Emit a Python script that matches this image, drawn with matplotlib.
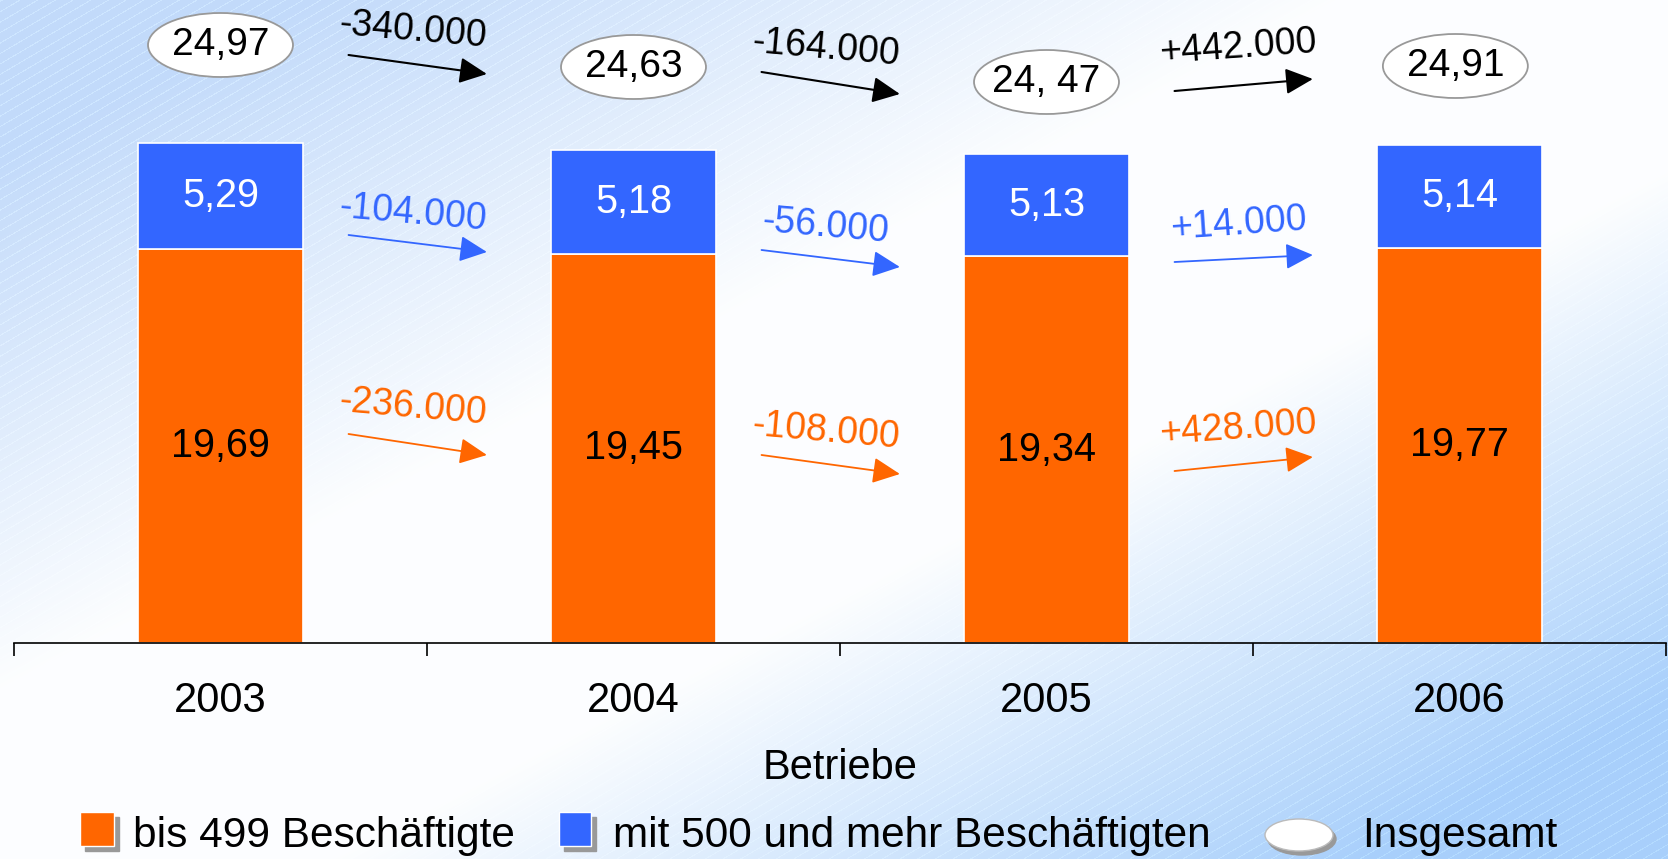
import numpy as np
import matplotlib
matplotlib.use("Agg")
import matplotlib.pyplot as plt
from matplotlib.patches import Ellipse, Rectangle

plt.rcParams["font.family"] = ["Liberation Sans", "DejaVu Sans"]

# ── Data ──────────────────────────────────────────────────────────────────────
years        = ["2003", "2004", "2005", "2006"]
small_firms  = [19.69, 19.45, 19.34, 19.77]   # bis 499 Beschäftigte
large_firms  = [5.29, 5.18, 5.13, 5.14]       # mit 500 und mehr Beschäftigten
total_labels = ["24,97", "24,63", "24, 47", "24,91"]
chg_total    = ["-340.000", "-164.000", "+442.000"]
chg_large    = ["-104.000", "-56.000", "+14.000"]
chg_small    = ["-236.000", "-108.000", "+428.000"]

# ── Layout (annotation positions, data units) ─────────────────────────────────
ellipse_y   = [29.9, 28.8, 28.05, 28.85]
ellipse_x   = [0.0, 1.0, 2.0, 2.99]
# (arrow start y, arrow end y, text y) per gap
lay_total = [(29.4, 28.45, 30.65), (28.55, 27.45, 29.75), (27.6, 28.2, 29.75)]
lay_large = [(20.4, 19.55, 21.5), (19.65, 18.8, 20.8), (19.05, 19.4, 20.95)]
lay_small = [(10.45, 9.4, 11.8), (9.4, 8.45, 10.6), (8.6, 9.3, 10.7)]

ORANGE = "#FF6600"
BLUE   = "#3366FF"
W, H = 1668, 859

fig = plt.figure(figsize=(W / 100, H / 100), dpi=100)

# ── Background gradient ───────────────────────────────────────────────────────
yy, xx = np.mgrid[0:H, 0:W].astype(float)
s = xx / W + yy / H - 1.0
w = np.clip((np.abs(s) - 0.2) / 0.62, 0, 1)
blue_tl = np.array([0xc2, 0xda, 0xfa]) / 255
blue_br = np.array([0xa8, 0xcf, 0xfb]) / 255
base = np.where(s[..., None] < 0, blue_tl, blue_br)
img = (1 - w[..., None]) * np.array([0.99, 0.995, 1.0]) + w[..., None] * base
phase = ((0.59 * xx + yy) / 1.16 / 9.0) % 1.0
stripe = (phase < 0.12) * w * 0.05
img = np.clip(img + stripe[..., None], 0, 1)

bg = fig.add_axes([0, 0, 1, 1], zorder=-1)
bg.imshow(img, extent=(0, W, H, 0), aspect="auto")
bg.set_xlim(0, W)
bg.set_ylim(H, 0)
bg.axis("off")

# ── Legend (manual) ───────────────────────────────────────────────────────────
LEG_FS = 30.5
bg.add_patch(Rectangle((85, 817), 34, 34, color="#999999"))
bg.add_patch(Rectangle((80, 812), 34, 34, fc=ORANGE, ec="white", lw=1))
bg.text(133, 836, "bis 499 Beschäftigte", fontsize=LEG_FS, va="center")
bg.add_patch(Rectangle((564, 817), 32, 34, color="#999999"))
bg.add_patch(Rectangle((559, 812), 32, 34, fc=BLUE, ec="white", lw=1))
bg.text(613, 836, "mit 500 und mehr Beschäftigten", fontsize=LEG_FS, va="center")
bg.add_patch(Ellipse((1302, 839), 68, 32, color="#999999"))
bg.add_patch(Ellipse((1299, 835), 68, 32, fc="white", ec="#bbbbbb", lw=1))
bg.text(1362, 836, "Insgesamt", fontsize=LEG_FS, va="center")

# ── Main axes ─────────────────────────────────────────────────────────────────
ax = fig.add_axes([14 / W, 216 / H, 1652 / W, 643 / H])
ax.set_facecolor("none")
x = np.arange(len(years))
ax.bar(x, small_firms, width=0.4, color=ORANGE, edgecolor="white", linewidth=1.2)
ax.bar(x, large_firms, width=0.4, bottom=small_firms, color=BLUE,
       edgecolor="white", linewidth=1.2)

for i in range(len(years)):
    ax.text(x[i], small_firms[i] / 2, f"{small_firms[i]:.2f}".replace(".", ","),
            ha="center", va="center", fontsize=28.5, color="black")
    ax.text(x[i], small_firms[i] + large_firms[i] / 2,
            f"{large_firms[i]:.2f}".replace(".", ","),
            ha="center", va="center", fontsize=28.5, color="white")
    ax.add_patch(Ellipse((ellipse_x[i], ellipse_y[i]), 0.351, 3.2, fc="white",
                         ec="#999999", lw=1.3, clip_on=False, zorder=3))
    ax.text(ellipse_x[i], ellipse_y[i], total_labels[i], ha="center",
            va="center", fontsize=28, zorder=4)


def draw_changes(labels, layout, color, lw):
    for i, (lab, (y0, y1, ty)) in enumerate(zip(labels, layout)):
        ax.annotate("", xy=(i + 0.645, y1), xytext=(i + 0.31, y0),
                    arrowprops=dict(arrowstyle="-|>,head_length=0.8,head_width=0.38",
                                    mutation_scale=21, color=color, lw=lw,
                                    shrinkA=0, shrinkB=0),
                    annotation_clip=False)
        rot = 4 if lab.startswith("+") else -5
        ax.text(i + 0.465, ty, lab, ha="center", va="center", fontsize=27,
                color=color, rotation=rot, rotation_mode="anchor")


draw_changes(chg_total, lay_total, "black", 1.5)
draw_changes(chg_large, lay_large, BLUE, 1.3)
draw_changes(chg_small, lay_small, ORANGE, 1.3)

ax.set_xlim(-0.5, 3.5)
ax.set_ylim(0, 32.15)
for side in ["left", "right", "top"]:
    ax.spines[side].set_visible(False)
ax.spines["bottom"].set_linewidth(1.2)
ax.set_yticks([])
ax.set_xticks(x)
ax.set_xticklabels(years, fontsize=30)
ax.set_xticks([-0.5, 0.5, 1.5, 2.5, 3.5], minor=True)
ax.tick_params(axis="x", which="major", length=0, pad=27)
ax.tick_params(axis="x", which="minor", length=9.5, width=1.2)
ax.set_xlabel("Betriebe", fontsize=30, va="center")
ax.xaxis.set_label_coords(0.5, -125 / 643)

fig.savefig("out.png", dpi=100)
